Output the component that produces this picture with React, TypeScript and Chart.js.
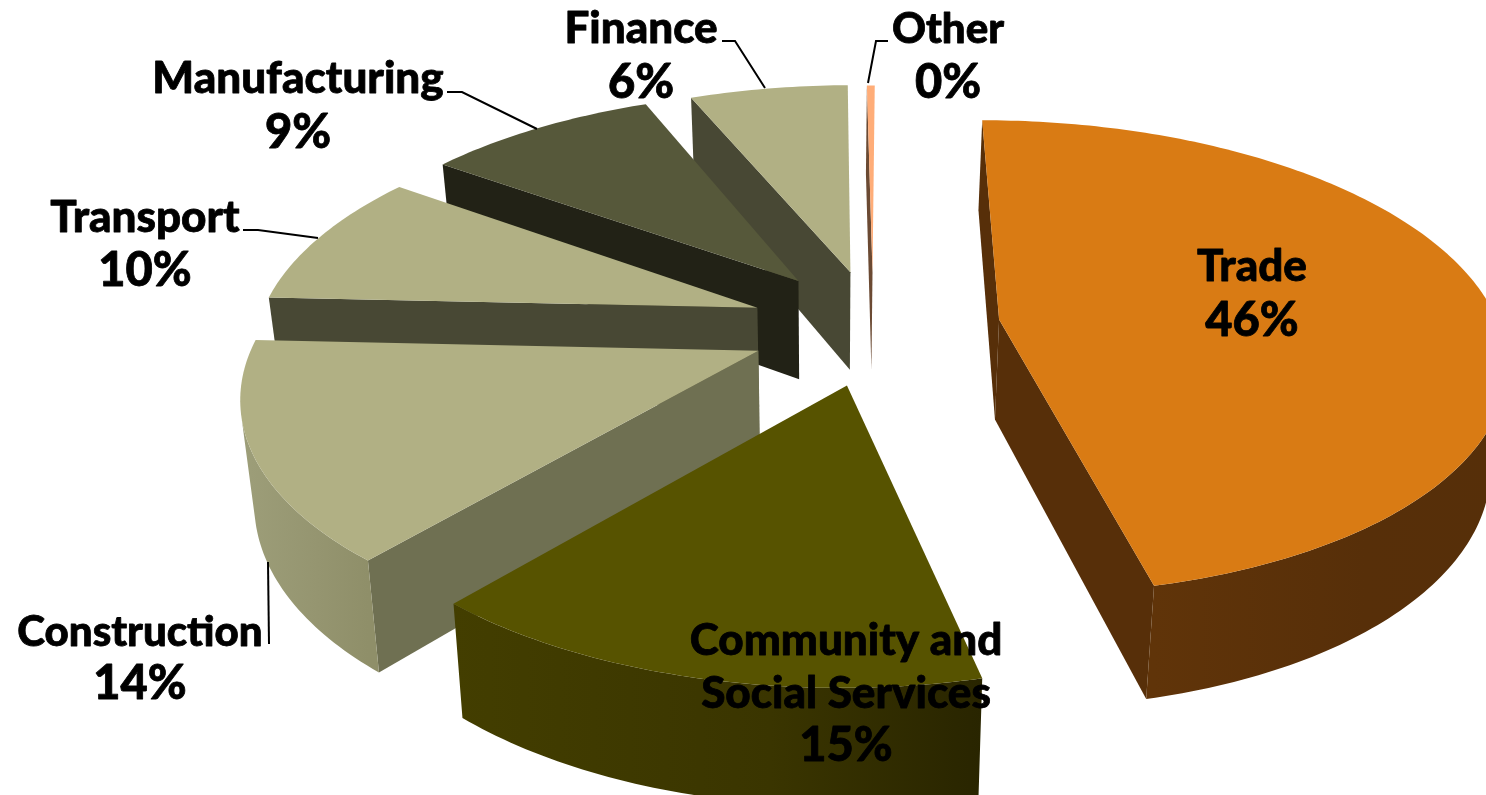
import React, { useEffect, useRef } from "react";
import { Chart, registerables } from "chart.js";

Chart.register(...registerables);

// ---- data
const categories = ["Trade", "Community and Social Services", "Construction", "Transport", "Manufacturing", "Finance", "Other"];
const shares = [46.2, 15.4, 14, 9.6, 8.9, 5.6, 0.3];
const shownPercent = ["46%", "15%", "14%", "10%", "9%", "6%", "0%"];

// ---- style
const explode = [88, 88, 88, 88, 88, 88, 88];
const topColors = ["#D97B14", "#575300", "#B1B084", "#B1B084", "#56583A", "#B1B084", "#FFAD78"];
const cutColors = ["#572F09", "#403B00", "#6F7052", "#484834", "#222216", "#484834", "#6B4A33"];
const wallLeft = ["#603409", "#433E00", "#9D9E79", "#9D9E79", "#3A3B26", "#9D9E79", "#6B4A33"];
const wallMid = ["#572F09", "#3A3500", "#959570", "#959570", "#3A3B26", "#959570", "#6B4A33"];
const wallRight = ["#562F09", "#292500", "#8F8F69", "#8F8F69", "#3A3B26", "#8F8F69", "#6B4A33"];
const paintOrder = [5, 6, 4, 3, 2, 1, 0];
// small corrections standing in for the source's 3D camera
const nudgeX = [0, 3, -1, -3, -5, -3, -3];
const nudgeY = [-4, -3, -2, -3, -4, -3, -2];
const startTrim = [-0.3, 0.2, -1.9, 0.1, -1.5, -1.7, 0];
const endTrim = [0.4, -1.26, 0.1, -1.5, -1.5, 0, 0];

// ---- view
const view = { cx: 876, cy: 330, A: 500, B: 233, k: 0.16 };
const extrude = { baseY: 84, growY: 0.05, vanishX: 827, pullX: 0.024 };
const fontFamily = "Lato, 'Open Sans', sans-serif";

type Pt = { x: number; y: number };
const project = (u: number, v: number): Pt => {
  const w = 1 - view.k * v;
  return { x: view.cx + (view.A * u) / w, y: view.cy + (view.B * v) / w };
};
const lower = (p: Pt): Pt => ({
  x: p.x + (extrude.vanishX - p.x) * extrude.pullX,
  y: p.y * (1 + extrude.growY) + extrude.baseY,
});

const faces = (p: Pt, q: Pt) => {
  const pts = [p, q, lower(q), lower(p)];
  let area = 0;
  pts.forEach((a, i) => {
    const b = pts[(i + 1) % 4];
    area += a.x * b.y - b.x * a.y;
  });
  return area < 0;
};

const fillPoly = (ctx: CanvasRenderingContext2D, pts: Pt[], color: any) => {
  ctx.beginPath();
  pts.forEach((a, i) => (i ? ctx.lineTo(a.x, a.y) : ctx.moveTo(a.x, a.y)));
  ctx.closePath();
  ctx.fillStyle = color;
  ctx.fill();
};

const drawSlice = (ctx: CanvasRenderingContext2D, el: any, i: number) => {
  const { outerRadius } = el;
  const mid = (el.startAngle + el.endAngle) / 2;
  const startAngle = el.startAngle + (startTrim[i] * Math.PI) / 180;
  const endAngle = el.endAngle + (endTrim[i] * Math.PI) / 180;
  const e = (el.options.offset || 0) / outerRadius;
  const ox = Math.cos(mid) * e, oy = Math.sin(mid) * e;
  const shift = (p: Pt): Pt => ({ x: p.x + nudgeX[i], y: p.y + nudgeY[i] });
  const tip = shift(project(ox, oy));
  const n = Math.max(4, Math.ceil((endAngle - startAngle) * 60));
  const arc: Pt[] = [];
  for (let j = 0; j <= n; j++) {
    const a = startAngle + ((endAngle - startAngle) * j) / n;
    arc.push(shift(project(ox + Math.cos(a), oy + Math.sin(a))));
  }
  if (faces(tip, arc[0])) fillPoly(ctx, [tip, arc[0], lower(arc[0]), lower(tip)], cutColors[i]);
  if (faces(arc[n], tip)) fillPoly(ctx, [arc[n], tip, lower(tip), lower(arc[n])], cutColors[i]);
  // outer wall: one polygon per contiguous run of visible segments
  let run: Pt[] = [];
  const flush = () => {
    if (run.length > 1) {
      const xs = run.map((p) => p.x);
      const g = ctx.createLinearGradient(Math.min(...xs), 0, Math.max(...xs), 0);
      g.addColorStop(0, wallLeft[i]);
      g.addColorStop(0.6, wallMid[i]);
      g.addColorStop(1, wallRight[i]);
      fillPoly(ctx, [...run, ...run.slice().reverse().map(lower)], g);
    }
    run = [];
  };
  for (let j = 0; j < n; j++) {
    if (faces(arc[j], arc[j + 1])) {
      if (!run.length) run.push(arc[j]);
      run.push(arc[j + 1]);
    } else flush();
  }
  flush();
  fillPoly(ctx, [tip, ...arc], topColors[i]);
};

// label text (real text), line positions, leader polylines
const labelLayout = [
  { i: 0, cx: 1252, size: 44, ys: [281, 336], lines: ["Trade"] },
  { i: 1, cx: 846, size: 44, ys: [655, 708, 761], lines: ["Community and", "Social Services"] },
  { i: 2, cx: 140, size: 42, ys: [646, 699], lines: ["Construction"] },
  { i: 3, cx: 145, size: 44, ys: [232, 286], lines: ["Transport"] },
  { i: 4, cx: 298, size: 44, ys: [93, 148], lines: ["Manufacturing"] },
  { i: 5, cx: 641, size: 44, ys: [43, 98], lines: ["Finance"] },
  { i: 6, cx: 948, size: 42, ys: [43, 98], lines: ["Other"] },
];
const leaders = [
  [[269, 644], [268, 562]],
  [[243, 230], [258, 230], [318, 238]],
  [[447, 92], [462, 92], [537, 129]],
  [[722, 41], [735, 41], [765, 88]],
  [[888, 41], [876, 41], [868, 83]],
];

const pie3d = {
  id: "pie3d",
  beforeDatasetDraw(chart: any) {
    const ctx = chart.ctx as CanvasRenderingContext2D;
    const arcs = chart.getDatasetMeta(0).data;
    paintOrder.forEach((i) => drawSlice(ctx, arcs[i], i));
    return false;
  },
  afterDraw(chart: any) {
    const ctx = chart.ctx as CanvasRenderingContext2D;
    ctx.save();
    ctx.strokeStyle = "#000";
    ctx.lineWidth = 2;
    leaders.forEach((l) => {
      ctx.beginPath();
      l.forEach(([x, y], j) => (j ? ctx.lineTo(x, y) : ctx.moveTo(x, y)));
      ctx.stroke();
    });
    ctx.fillStyle = "#000";
    ctx.textAlign = "center";
    ctx.textBaseline = "alphabetic";
    ctx.lineWidth = 0.8;
    ctx.lineJoin = "round";
    labelLayout.forEach((l) => {
      [...l.lines, shownPercent[l.i]].forEach((t, j) => {
        ctx.font = `900 ${j === l.lines.length ? 47 : l.size}px ${fontFamily}`;
        ctx.fillText(t, l.cx, l.ys[j]);
        ctx.strokeText(t, l.cx, l.ys[j]);
      });
    });
    ctx.restore();
  },
};

export default function App() {
  const ref = useRef<HTMLCanvasElement>(null);
  useEffect(() => {
    document.body.style.margin = "0";
    const chart = new Chart(ref.current!, {
      type: "pie",
      data: {
        labels: categories,
        datasets: [{ data: shares, backgroundColor: topColors, borderWidth: 0, offset: explode } as any],
      },
      options: {
        responsive: false,
        animation: false,
        devicePixelRatio: 1,
        rotation: 0.3,
        layout: { padding: 0 },
        plugins: { legend: { display: false }, tooltip: { enabled: false } },
      },
      plugins: [pie3d],
    });
    return () => chart.destroy();
  }, []);
  return <canvas ref={ref} width={1486} height={795} style={{ display: "block", background: "#fff" }} />;
}
